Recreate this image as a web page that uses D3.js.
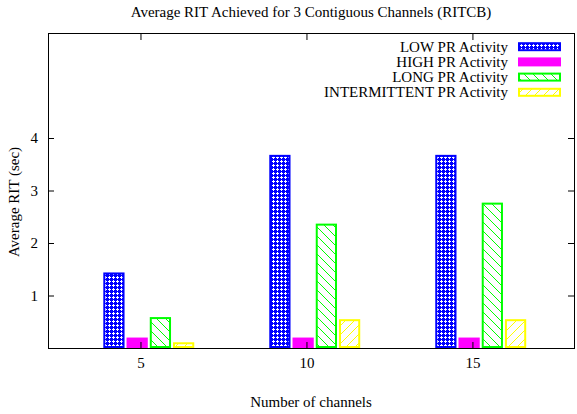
<!DOCTYPE html>
<html><head><meta charset="utf-8">
<script src="https://cdn.jsdelivr.net/npm/d3@7"></script>
<style>body{margin:0;background:#fff}svg{display:block}text{font-family:"Liberation Serif","DejaVu Serif",serif;fill:#000}</style>
</head><body><svg id="c" width="577" height="414"></svg>
<script>
const categories = [5, 10, 15];
const seriesNames = ["LOW PR Activity", "HIGH PR Activity", "LONG PR Activity", "INTERMITTENT PR Activity"];
const lowValues = [1.42, 3.66, 3.66];
const highValues = [0.18, 0.18, 0.18];
const longValues = [0.57, 2.35, 2.75];
const intermittentValues = [0.09, 0.53, 0.53];
const yTicks = [1, 2, 3, 4];
const title = "Average RIT Achieved for 3 Contiguous Channels (RITCB)";
const xLabel = "Number of channels";
const yLabel = "Average RIT (sec)";

const series = [lowValues, highValues, longValues, intermittentValues];
const colors = ["#0000ff", "#ff00ff", "#00ff00", "#ffff00"];
const patterns = ["pLow", null, "pLong", "pInt"];
const offsets = [-0.8, -0.1, 0.6, 1.3];
const barW = 0.64;
const FS = 15;

const svg = d3.select("#c");
const L = 48, R = 575, T = 33, B = 348;
const x = d3.scaleLinear().domain([2.214, 18.09]).range([L, R]);
const y = d3.scaleLinear().domain([0, 6]).range([B, T]);

const defs = svg.append("defs");
const p1 = defs.append("pattern").attr("id", "pLow").attr("patternUnits", "userSpaceOnUse").attr("width", 4).attr("height", 4);
p1.append("rect").attr("width", 4).attr("height", 4).attr("fill", "#0000ff");
p1.append("rect").attr("x", 1).attr("y", 0).attr("width", 1).attr("height", 3).attr("fill", "#fff");
p1.append("rect").attr("x", 0).attr("y", 1).attr("width", 3).attr("height", 1).attr("fill", "#fff");
const p2 = defs.append("pattern").attr("id", "pLong").attr("patternUnits", "userSpaceOnUse").attr("width", 9).attr("height", 9);
p2.append("rect").attr("width", 9).attr("height", 9).attr("fill", "#fff");
p2.append("path").attr("d", "M-1,-1 L10,10 M-1,8 L1,10 M8,-1 L10,1").attr("stroke", "#00ff00").attr("stroke-width", 1);
const p3 = defs.append("pattern").attr("id", "pInt").attr("patternUnits", "userSpaceOnUse").attr("width", 9).attr("height", 9);
p3.append("rect").attr("width", 9).attr("height", 9).attr("fill", "#fff");
p3.append("path").attr("d", "M-1,10 L10,-1 M-1,1 L1,-1 M8,10 L10,8").attr("stroke", "#ffff00").attr("stroke-width", 1);

series.forEach((vals, si) => {
  svg.append("g").selectAll("rect").data(categories.map((c, i) => ({c, v: vals[i]}))).join("rect")
    .attr("x", d => x(d.c + offsets[si] - barW / 2) + 1)
    .attr("y", d => y(d.v))
    .attr("width", d => x(d.c + barW / 2) - x(d.c - barW / 2) - 2)
    .attr("height", d => y(0) - y(d.v) - 1)
    .attr("fill", patterns[si] ? `url(#${patterns[si]})` : colors[si])
    .attr("stroke", colors[si]).attr("stroke-width", 2);
});

svg.append("rect").attr("x", L + 0.5).attr("y", T + 0.5).attr("width", R - L - 1).attr("height", B - T)
  .attr("fill", "none").attr("stroke", "#000").attr("stroke-width", 1);

const tl = 6;
const gy = svg.append("g").attr("transform", `translate(${L},0)`)
  .call(d3.axisLeft(y).tickValues(yTicks).tickFormat(d3.format("d")).tickSize(-tl).tickPadding(10));
const gyr = svg.append("g").attr("transform", `translate(${R - 1},0)`)
  .call(d3.axisRight(y).tickValues(yTicks).tickFormat("").tickSize(-tl));
const gx = svg.append("g").attr("transform", `translate(0,${B})`)
  .call(d3.axisBottom(x).tickValues(categories).tickFormat(d3.format("d")).tickSize(-tl).tickPadding(9));
const gxt = svg.append("g").attr("transform", `translate(0,${T + 1})`)
  .call(d3.axisTop(x).tickValues(categories).tickFormat("").tickSize(-tl));
[gy, gyr, gx, gxt].forEach(g => {
  g.select(".domain").remove();
  g.selectAll("line").attr("stroke", "#000");
  g.selectAll("text").attr("font-size", FS).attr("font-family", "Liberation Serif");
});

svg.append("text").attr("x", 311).attr("y", 17).attr("text-anchor", "middle").attr("font-size", FS).text(title);
svg.append("text").attr("x", 311).attr("y", 407).attr("text-anchor", "middle").attr("font-size", FS).text(xLabel);
svg.append("text").attr("transform", "translate(19,202) rotate(-90)").attr("text-anchor", "middle").attr("font-size", FS).text(yLabel);

const lg = svg.append("g");
seriesNames.forEach((n, i) => {
  const cy = 46.7 + i * 15.2;
  lg.append("text").attr("x", 508).attr("y", cy + 5).attr("text-anchor", "end").attr("font-size", FS).text(n);
  lg.append("rect").attr("x", 519).attr("y", cy - 3.5).attr("width", 41).attr("height", 7)
    .attr("fill", patterns[i] ? `url(#${patterns[i]})` : colors[i]).attr("stroke", colors[i]).attr("stroke-width", 2);
});
</script></body></html>
